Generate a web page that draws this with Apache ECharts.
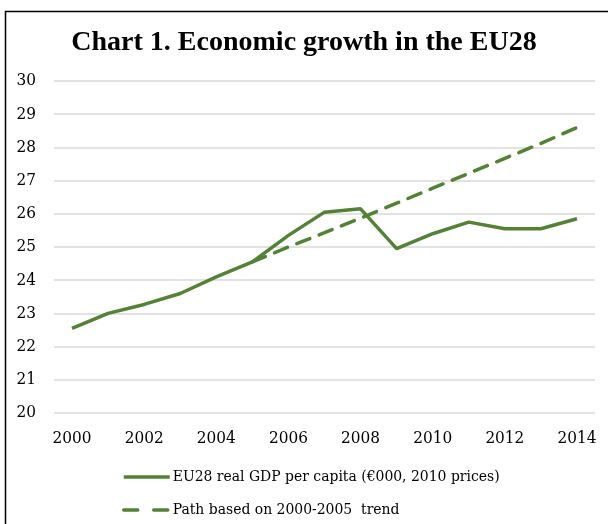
<!DOCTYPE html>
<html><head><meta charset="utf-8">
<script src="https://cdn.jsdelivr.net/npm/echarts@6/dist/echarts.min.js"></script>
<style>html,body{margin:0;padding:0;background:#fff}#c{width:608px;height:524px}</style>
</head><body><div id="c"></div>
<script>
const years = ['2000','2001','2002','2003','2004','2005','2006','2007','2008','2009','2010','2011','2012','2013','2014'];
const gdp = [22.55, 23.0, 23.27, 23.6, 24.1, 24.55, 25.35, 26.05, 26.15, 24.95, 25.4, 25.75, 25.55, 25.55, 25.85];
const trend = [null, null, null, null, null, 24.55, 25.0, 25.43, 25.87, 26.32, 26.77, 27.22, 27.67, 28.12, 28.6];
const yTicks = [20, 30, 1];
const titleText = 'Chart 1. Economic growth in the EU28';
const seriesNames = ['EU28 real GDP per capita (€000, 2010 prices)', 'Path based on 2000-2005  trend'];
const green = '#548235';
const serif = '"Liberation Serif", "DejaVu Serif", serif';
const cond = '"DejaVu Serif Condensed", "Liberation Serif", serif';
const chart = echarts.init(document.getElementById('c'), null, {renderer: 'canvas'});
chart.setOption({
  animation: false,
  graphic: [{type: 'rect', shape: {x: 5.5, y: 11.5, width: 700, height: 600}, style: {fill: 'none', stroke: '#000', lineWidth: 1.5}, silent: true}],
  title: {text: titleText, left: 'center', top: 24, textStyle: {fontFamily: serif, fontWeight: 'bold', fontSize: 28, color: '#000'}},
  grid: {left: 54, right: 13, top: 81, bottom: 111, containLabel: false},
  xAxis: {type: 'category', data: years, boundaryGap: true,
    axisLine: {show: false}, axisTick: {show: false},
    axisLabel: {interval: 1, fontFamily: cond, fontSize: 17, color: '#000', margin: 17}},
  yAxis: {type: 'value', min: yTicks[0], max: yTicks[1], interval: yTicks[2],
    axisLine: {show: false}, axisTick: {show: false},
    axisLabel: {fontFamily: cond, fontSize: 17, color: '#000', margin: 18},
    splitLine: {lineStyle: {color: '#d9d9d9', width: 1.5}}},
  legend: {orient: 'vertical', left: 122, top: 469, padding: 0, itemWidth: 46, itemHeight: 14, itemGap: 17,
    itemStyle: {opacity: 0},
    lineStyle: {width: 3.5},
    textStyle: {fontFamily: cond, fontSize: 15.5, color: '#000', padding: [0, 0, 0, -2]},
    data: [{name: seriesNames[0]}, {name: seriesNames[1], lineStyle: {width: 3.5, type: [14, 16]}}]},
  series: [
    {name: seriesNames[0], type: 'line', data: gdp, showSymbol: false, symbol: 'none',
     lineStyle: {color: green, width: 3.5}, itemStyle: {color: green}},
    {name: seriesNames[1], type: 'line', data: trend, showSymbol: false, symbol: 'none',
     lineStyle: {color: green, width: 3.5, type: [14, 10], cap: 'round'}, itemStyle: {color: green}}
  ]
});
</script></body></html>
